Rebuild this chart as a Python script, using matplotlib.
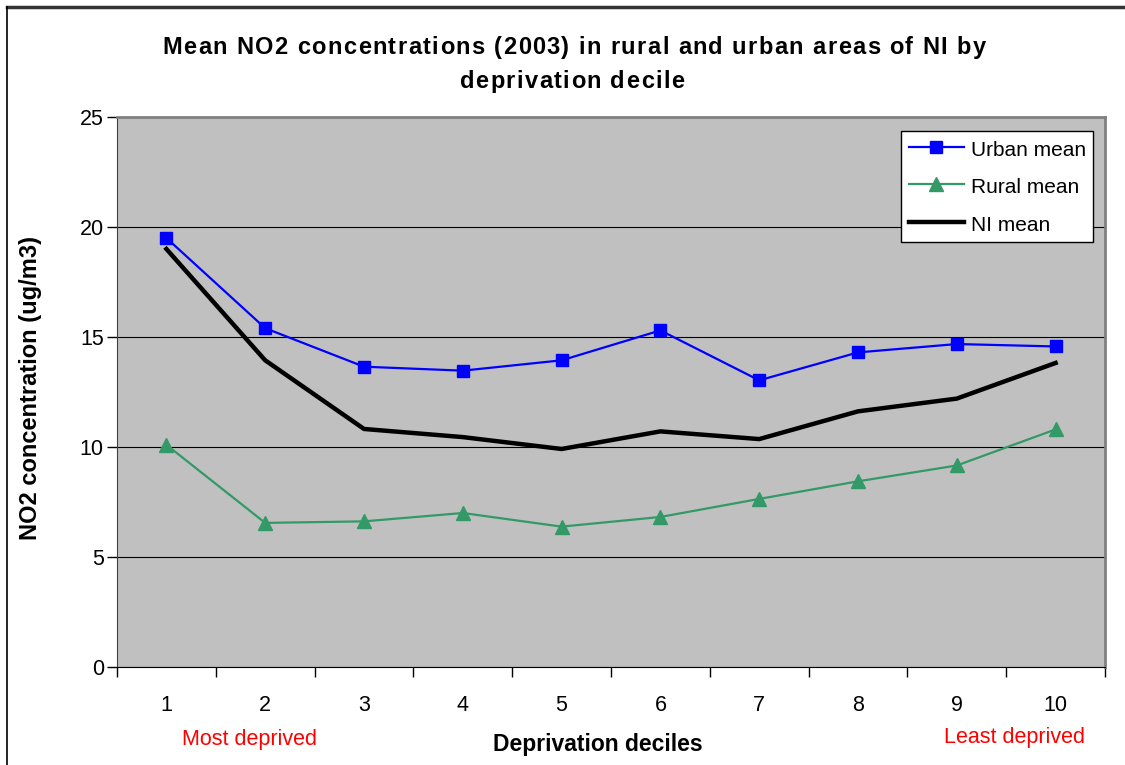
import numpy as np
import matplotlib
matplotlib.use("Agg")
import matplotlib.pyplot as plt
from matplotlib.lines import Line2D
from matplotlib import font_manager, ft2font

plt.rcParams['font.family'] = ['Liberation Sans', 'DejaVu Sans']

# Mean NO2 (ug/m3) per deprivation decile, 2003
deciles = np.arange(1, 11)
urban_mean = [19.5, 15.4, 13.65, 13.47, 13.94, 15.3, 13.03, 14.3, 14.68, 14.57]
rural_mean = [10.1, 6.55, 6.62, 7.0, 6.38, 6.82, 7.64, 8.44, 9.16, 10.8]
ni_mean = [19.0, 13.94, 10.82, 10.45, 9.91, 10.71, 10.36, 11.62, 12.2, 13.82]
tick_labels = [str(d) for d in deciles]
title_lines = ['Mean NO2 concentrations (2003) in rural and urban areas of NI by',
               'deprivation decile']

W, H, DPI = 1125, 765, 100
fig = plt.figure(figsize=(W / DPI, H / DPI), dpi=DPI)
ax = fig.add_axes([117 / W, 1 - 667 / H, 988 / W, 550 / H])
ax.set_facecolor('#C0C0C0')

ax.plot(deciles, urban_mean, color='#0000FF', lw=1.6, marker='s', ms=8.5,
        label='Urban mean', zorder=4)
ax.plot(deciles, rural_mean, color='#339966', lw=1.6, marker='^', ms=9.5,
        label='Rural mean', zorder=4)
ax.plot(deciles, ni_mean, color='black', lw=3.2, label='NI mean', zorder=3)

ax.set_xlim(0.5, 10.5)
ax.set_ylim(0, 25)
ax.set_yticks(np.arange(0, 26, 5))
ax.yaxis.grid(True, color='black', lw=0.8)
ax.set_axisbelow(True)

# category boundaries carry the tick marks, labels sit between them
ax.set_xticks(np.arange(0.5, 11, 1))
ax.set_xticklabels([])
ax.set_xticks(deciles, minor=True)
ax.set_xticklabels(tick_labels, minor=True)
ax.tick_params(axis='x', which='major', direction='out', length=7, width=1)
ax.tick_params(axis='x', which='minor', length=0, pad=20, labelsize=15.5)
ax.tick_params(axis='y', direction='out', length=7, width=1, pad=2.5, labelsize=15.5)

for side in ('top', 'right'):
    ax.spines[side].set_color('#808080')
    ax.spines[side].set_linewidth(2)
ax.spines['left'].set_color('#404040')
ax.spines['bottom'].set_color('black')

fig.text(31 / W, 1 - 388 / H, 'NO2 concentration (ug/m3)', rotation=90,
         fontsize=17, fontweight='bold', ha='center', va='center')
fig.text(598 / W, 1 - 745 / H, 'Deprivation deciles', fontsize=16.5,
         fontweight='bold', ha='center', va='center')


def tracked_text(line, cx, baseline, size, tracking):
    """Draw a bold line one glyph at a time with extra letter spacing (pixels)."""
    path = font_manager.findfont(font_manager.FontProperties(
        family='Liberation Sans', weight='bold'))
    font = ft2font.FT2Font(path)
    font.set_size(size, DPI)
    adv = [font.load_char(ord(c)).linearHoriAdvance / 65536 for c in line]
    total = sum(adv) + tracking * (len(line) - 1)
    x = cx - total / 2
    for c, a in zip(line, adv):
        if c != ' ':
            fig.text(x / W, 1 - baseline / H, c, fontsize=size, fontweight='bold',
                     ha='left', va='baseline')
        x += a + tracking


tracked_text(title_lines[0], 574, 54, 17, 1.4)
tracked_text(title_lines[1], 572, 88, 17, 1.4)

fig.text(249 / W, 1 - 740 / H, 'Most deprived', color='#FF0000', fontsize=15.5,
         ha='center', va='center')
fig.text(1015 / W, 1 - 738 / H, 'Least deprived', color='#FF0000', fontsize=15.5,
         ha='center', va='center')

leg = ax.legend(loc='upper right', bbox_to_anchor=(1093 / W, 1 - 131 / H),
                bbox_transform=fig.transFigure, fontsize=15, frameon=True,
                fancybox=False, framealpha=1, edgecolor='black',
                handlelength=2.64, handleheight=1.2, handletextpad=0.34,
                labelspacing=0.75, borderpad=0.35, borderaxespad=0)
leg.get_frame().set_linewidth(1)

# chart frame
fig.add_artist(Line2D([7 / W, 1], [1 - 7 / H, 1 - 7 / H], color='#333333', lw=2.5))
fig.add_artist(Line2D([7 / W, 7 / W], [0, 1 - 7 / H], color='black', lw=1.2))

fig.savefig('out.png', dpi=DPI)
